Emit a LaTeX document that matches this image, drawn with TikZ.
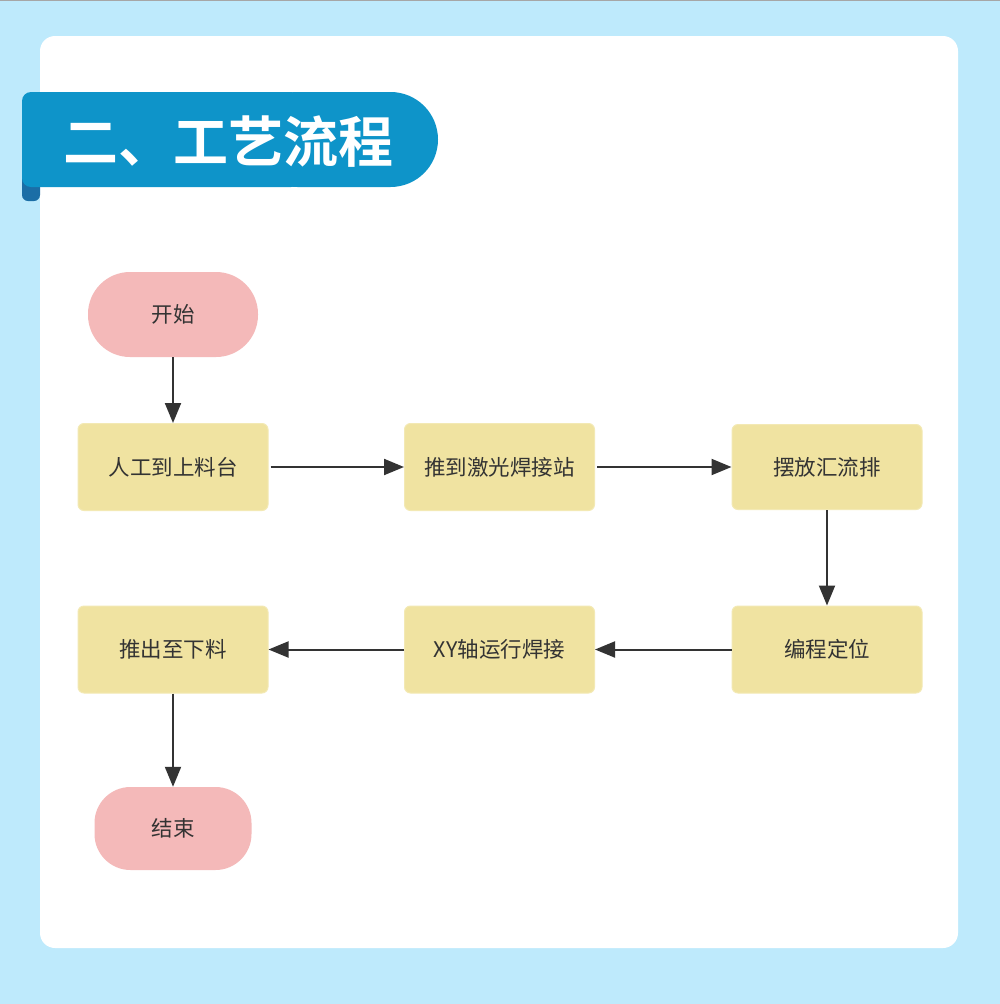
\documentclass[tikz,border=0pt]{standalone}
\usepackage{fontspec}
\newfontfamily\cjk{Noto Sans CJK SC}
\newfontfamily\cjkb{Noto Sans CJK SC Bold}
\usetikzlibrary{arrows.meta}
\definecolor{bgblue}{HTML}{BEEAFC}
\definecolor{banner}{HTML}{0E94C9}
\definecolor{flap}{HTML}{1B6EA6}
\definecolor{pinkbox}{HTML}{F4B9B9}
\definecolor{yellowbox}{HTML}{F0E3A1}
\definecolor{txt}{HTML}{333333}
\tikzset{
  procbox/.style={fill=yellowbox, draw=yellowbox!80!white, line width=1pt, rounded corners=6pt,
    minimum width=190pt, minimum height=87pt, inner sep=0pt,
    font=\cjk\fontsize{21.5pt}{24pt}\selectfont, text=txt},
  termbox/.style={fill=pinkbox, inner sep=0pt, font=\cjk\fontsize{21.5pt}{24pt}\selectfont, text=txt},
  flowarrow/.style={draw=txt, line width=2pt, -{Triangle[length=20pt,width=16pt]}}
}
\begin{document}
\begin{tikzpicture}[x=1pt,y=-1pt]
\useasboundingbox (0,0) rectangle (1000,1004);
\fill[bgblue] (0,0) rectangle (1000,1004);
\draw[gray!70, line width=1.2pt] (0,0.6) -- (1000,0.6);
% white card
\fill[white, rounded corners=15pt] (40,36) rectangle (958,948);
% banner
\fill[flap, rounded corners=6pt] (22,165) rectangle (40,201);
\fill[banner, rounded corners=47.5pt] (250,92) rectangle (438,187);
\fill[banner, rounded corners=9pt] (22,92) rectangle (300,187);
\node[font=\cjkb\fontsize{55pt}{60pt}\selectfont, text=white, anchor=west, inner sep=0pt] (title) at (63,142) {二、工艺流程};
% nodes
\node[termbox, rounded corners=42pt, minimum width=170pt, minimum height=85pt] (start) at (173,314.5) {开始};
\node[procbox] (n1) at (173,467) {人工到上料台};
\node[procbox] (n2) at (499.5,467) {推到激光焊接站};
\node[procbox, minimum height=85pt] (n3) at (827,467) {摆放汇流排};
\node[procbox] (n4) at (827,649.5) {编程定位};
\node[procbox] (n5) at (499.5,649.5) {XY轴运行焊接};
\node[procbox] (n6) at (173,649.5) {推出至下料};
\node[termbox, rounded corners=36pt, minimum width=157pt, minimum height=83pt] (end) at (173,828.5) {结束};
% arrows
\draw[flowarrow] (start) -- (n1);
\draw[flowarrow] (n1.east) ++(2,0) coordinate (a1) (a1) -- (n2.west);
\draw[flowarrow] (n2.east) ++(2,0) coordinate (a2) (a2) -- (n3.west);
\draw[flowarrow] (n3) -- (n4);
\draw[flowarrow] (n4) -- (n5);
\draw[flowarrow] (n5) -- (n6);
\draw[flowarrow] (n6) -- (end);
\end{tikzpicture}
\end{document}
